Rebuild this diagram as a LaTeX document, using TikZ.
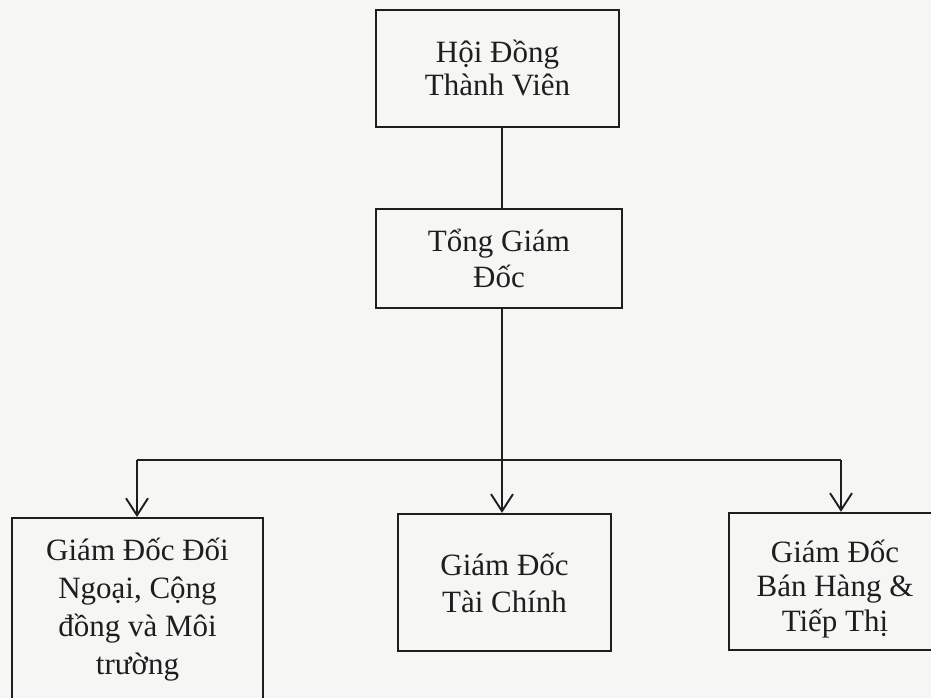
\documentclass[tikz,border=0pt]{standalone}
\usepackage{fontspec}
\setmainfont{Liberation Serif}
\usetikzlibrary{arrows.meta}
\definecolor{ink}{RGB}{30,30,30}
\definecolor{paper}{RGB}{246,246,244}
\tikzset{
  box/.style={draw=ink, line width=2.3pt, fill=none, inner sep=0pt, align=center,
    text=ink, font=\fontsize{31}{35}\selectfont},
  txt/.style={inner sep=0pt, align=center, text=ink, font=\fontsize{31}{36}\selectfont},
  link/.style={draw=ink, line width=2.2pt},
  arr/.style={link, -{Straight Barb[length=17pt,width=22pt,line width=1.9pt]}}
}
\begin{document}
\begin{tikzpicture}[x=1pt,y=-1pt]
\fill[paper] (0,0) rectangle (931,698);
\useasboundingbox (0,0) rectangle (931,698);

\node[box, minimum width=243, minimum height=117, font=\fontsize{31}{33}\selectfont] (hd) at (497.5,68.5) {Hội Đồng\\Thành Viên};
\node[box, minimum width=246, minimum height=99, font=\fontsize{31}{36}\selectfont] (tgd) at (499,258.5) {Tổng Giám\\Đốc};

\node[box, minimum width=251, minimum height=200, anchor=north] (gd1) at (137.5,517) {};
\node[txt, font=\fontsize{31}{38}\selectfont] (gd1t) at (137.5,610) {Giám Đốc Đối\\Ngoại, Cộng\\đồng và Môi\\trường};

\node[box, minimum width=213, minimum height=137, font=\fontsize{31}{37}\selectfont] (gd2) at (504.5,582.5) {Giám Đốc\\Tài Chính};

\node[box, minimum width=212, minimum height=137] (gd3) at (835,581.5) {};
\node[txt, font=\fontsize{31}{34.5}\selectfont] (gd3t) at (835,589) {Giám Đốc\\Bán Hàng \&\\Tiếp Thị};

\coordinate (spine) at (502,460);
\coordinate (jL) at (137,460);
\coordinate (jR) at (841,460);

\draw[link] (hd.south -| spine) -- (tgd.north -| spine);
\draw[link] (tgd.south -| spine) -- (spine);
\draw[link] (jL) -- (jR);
\draw[arr] (jL) -- (jL |- gd1.north);
\draw[arr] (spine) -- (spine |- gd2.north);
\draw[arr] (jR) -- (jR |- gd3.north);
\end{tikzpicture}
\end{document}
